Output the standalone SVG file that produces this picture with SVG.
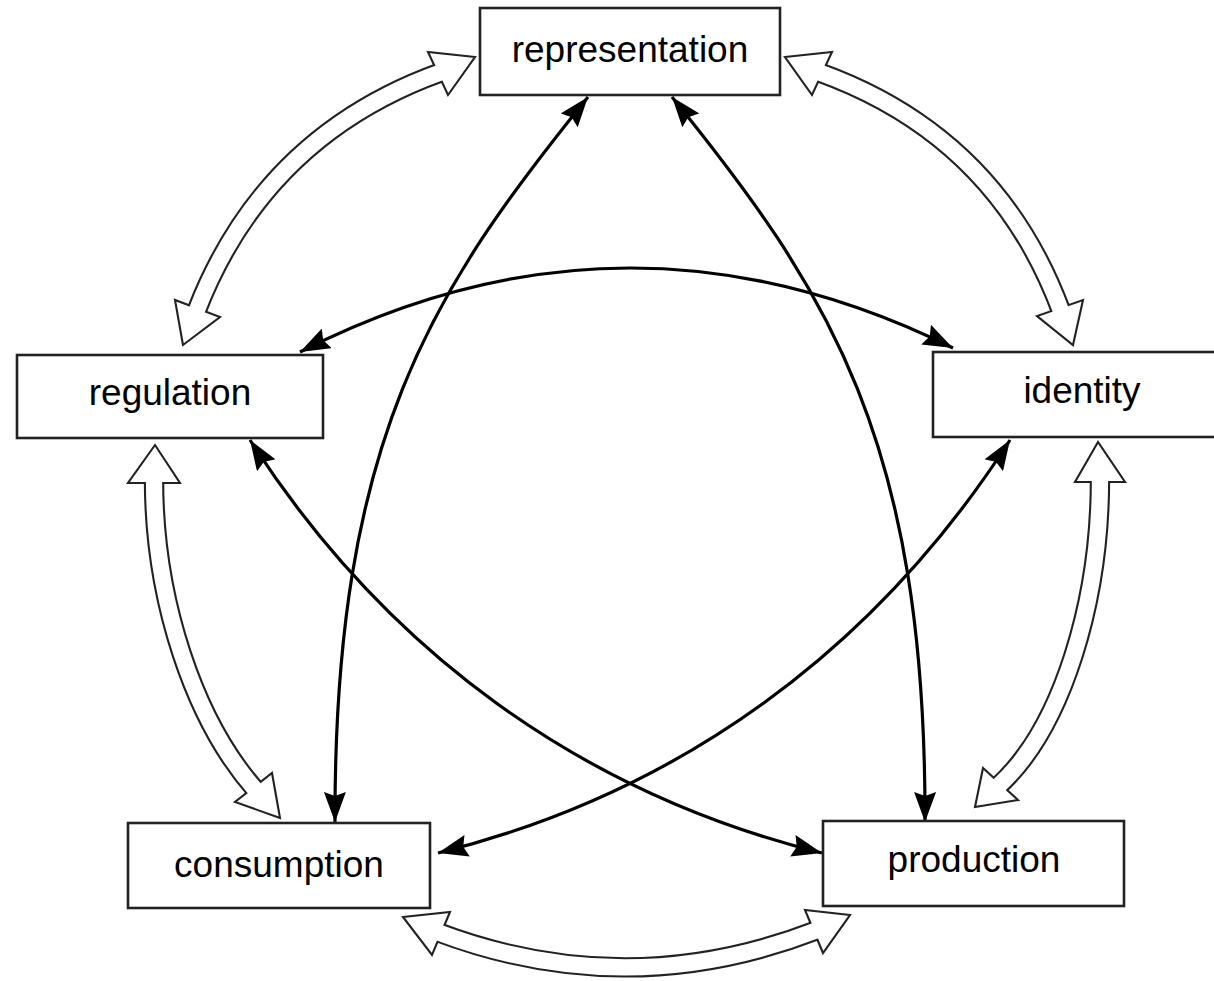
<svg xmlns="http://www.w3.org/2000/svg" width="1214" height="981" viewBox="0 0 1214 981">
<style>
.box{fill:#fff;stroke:#222;stroke-width:2.6}
.lbl{font-family:"Liberation Sans",Arial,sans-serif;font-size:37px;fill:#000;text-anchor:middle}
.conn{fill:none;stroke:#000;stroke-width:3.2;marker-start:url(#ah);marker-end:url(#ah)}
.shaftO{fill:none;stroke:#222;stroke-width:20.4}
.shaftI{fill:none;stroke:#fff;stroke-width:16.2}
.head{fill:#fff;stroke:#222;stroke-width:2.1;stroke-linejoin:miter}
</style>
<defs>
<marker id="ah" viewBox="0 0 30 22" refX="30" refY="11" markerWidth="30" markerHeight="22" markerUnits="userSpaceOnUse" orient="auto-start-reverse">
<path d="M0,0 L30,11 L0,22 L4,11 z" fill="#000"/>
</marker>
<path id="sA" d="M440.7,72.3 Q264,136 196.4,311.3"/>
<path id="sE" d="M819.3,72.3 Q996,136 1061,310.8"/>
<path id="sB" d="M154,480 C154,600 194,720 255.5,789.8"/>
<path id="sD" d="M1100,479 C1100,600 1063,727 998.3,786"/>
<path id="sC" d="M438.2,932.3 Q627.5,1003.5 816.7,930.2"/>
</defs>
<rect width="1214" height="981" fill="#fff"/>

<g id="hollow-arrows">
<use href="#sA" class="shaftO"/>
<use href="#sE" class="shaftO"/>
<use href="#sB" class="shaftO"/>
<use href="#sD" class="shaftO"/>
<use href="#sC" class="shaftO"/>
<polygon class="head" points="475,57 428,52 448,95"/>
<polygon class="head" points="183,345 175,300 220,317"/>
<polygon class="head" points="785,57 832,52 812,95"/>
<polygon class="head" points="1073,345 1083,300 1037,316"/>
<polygon class="head" points="155,445 128,483 180,483"/>
<polygon class="head" points="280,818 235,802 272,773"/>
<polygon class="head" points="1098,442 1075,482 1125,482"/>
<polygon class="head" points="975,807 983,768 1018,800"/>
<polygon class="head" points="403,917 450,912 432,955"/>
<polygon class="head" points="850,915 805,910 823,953"/>
<use href="#sA" class="shaftI"/>
<use href="#sE" class="shaftI"/>
<use href="#sB" class="shaftI"/>
<use href="#sD" class="shaftI"/>
<use href="#sC" class="shaftI"/>
</g>

<g id="connectors">
<path class="conn" d="M588,97 C432,290 334,440 335,822"/>
<path class="conn" d="M672,97 C828,290 926,440 925,822"/>
<path class="conn" d="M300,352 Q626,186 953,348"/>
<path class="conn" d="M250,440 C385,650 580,793 822,853"/>
<path class="conn" d="M1010,440 C875,650 680,793 438,853"/>
</g>

<g id="representation">
<rect class="box" x="480" y="8" width="300" height="87"/>
<text class="lbl" x="630" y="62">representation</text>
</g>
<g id="regulation">
<rect class="box" x="17" y="355" width="306" height="83"/>
<text class="lbl" x="170" y="405">regulation</text>
</g>
<g id="identity">
<rect class="box" x="933" y="352" width="300" height="85"/>
<text class="lbl" x="1082" y="403">identity</text>
</g>
<g id="consumption">
<rect class="box" x="128" y="823" width="302" height="85"/>
<text class="lbl" x="279" y="877">consumption</text>
</g>
<g id="production">
<rect class="box" x="823" y="821" width="301" height="85"/>
<text class="lbl" x="974" y="872">production</text>
</g>
</svg>
